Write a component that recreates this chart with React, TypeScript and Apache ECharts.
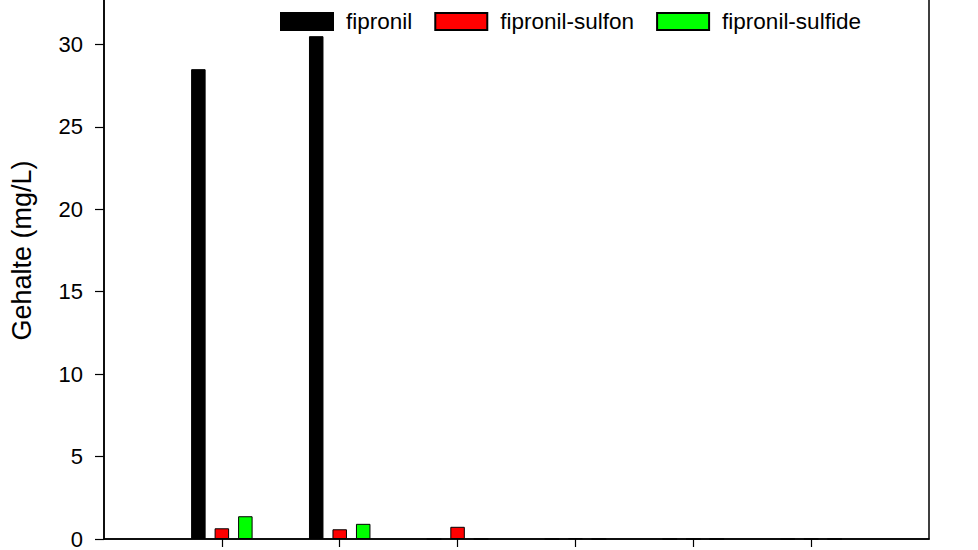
import React, { useEffect, useRef } from "react";
import * as echarts from "echarts";

// x categories: empty slot at each end so ticks sit at positions 1..6
const categories = ["", "1", "2", "3", "4", "5", "6", ""];
const seriesNames = ["fipronil", "fipronil-sulfon", "fipronil-sulfide"];
const fipronil = ["-", 28.5, 30.5, 0, 0, 0, 0, "-"];
const fipronilSulfon = ["-", 0.65, 0.59, 0.74, 0.05, 0, 0, "-"];
const fipronilSulfide = ["-", 1.38, 0.92, 0, 0, 0, 0, "-"];
const colors = ["#000000", "#ff0000", "#00ff00"];
const yTitle = "Gehalte (mg/L)";

const FONT = "'Liberation Sans', Arial, sans-serif";
const SHIFT = 38; // the plot's top edge lies above the visible picture

export default function App() {
  const ref = useRef<HTMLDivElement>(null);
  useEffect(() => {
    if (!ref.current) return;
    const chart = echarts.init(ref.current, null, { renderer: "svg" });
    const values = [fipronil, fipronilSulfon, fipronilSulfide];
    chart.setOption({
      animation: false,
      backgroundColor: "#ffffff",
      textStyle: { fontFamily: FONT },
      legend: {
        top: 5 + SHIFT,
        left: 275,
        itemWidth: 52,
        itemHeight: 17,
        itemGap: 22,
        icon: "rect",
        textStyle: { fontSize: 22.5, color: "#000", fontFamily: FONT, padding: [0, 0, 0, 8] },
        data: seriesNames,
      },
      grid: {
        left: 104,
        right: 49,
        top: 0,
        bottom: 10.5,
        show: true,
        borderColor: "#000",
        borderWidth: 1.5,
        backgroundColor: "transparent",
      },
      xAxis: {
        type: "category",
        data: categories,
        boundaryGap: false,
        axisLine: { lineStyle: { color: "#000", width: 1.5 } },
        axisTick: {
          show: true,
          length: 8,
          lineStyle: { color: "#000", width: 1.2 },
          interval: (index: number) => index >= 1 && index <= 6,
        },
        axisLabel: { show: false },
        splitLine: { show: false },
      },
      yAxis: {
        type: "value",
        min: 0,
        max: 35,
        interval: 5,
        name: yTitle,
        nameLocation: "middle",
        nameGap: 69,
        nameTextStyle: { fontSize: 27, color: "#000", fontFamily: FONT },
        axisLine: { show: true, lineStyle: { color: "#000", width: 1.5 } },
        axisTick: { show: true, length: 9, lineStyle: { color: "#000", width: 1.2 } },
        axisLabel: { fontSize: 22, color: "#000", margin: 21, fontFamily: FONT, showMaxLabel: false },
        splitLine: { show: false },
      },
      series: seriesNames.map((name, i) => ({
        name,
        type: "bar",
        data: values[i],
        barWidth: 14.5,
        barGap: "62%",
        itemStyle: { color: colors[i], borderColor: "#000", borderWidth: 1 },
      })),
    });
    return () => chart.dispose();
  }, []);
  return (
    <div
      ref={ref}
      style={{ position: "fixed", left: 0, top: -SHIFT, width: 978, height: 550 + SHIFT }}
    />
  );
}
